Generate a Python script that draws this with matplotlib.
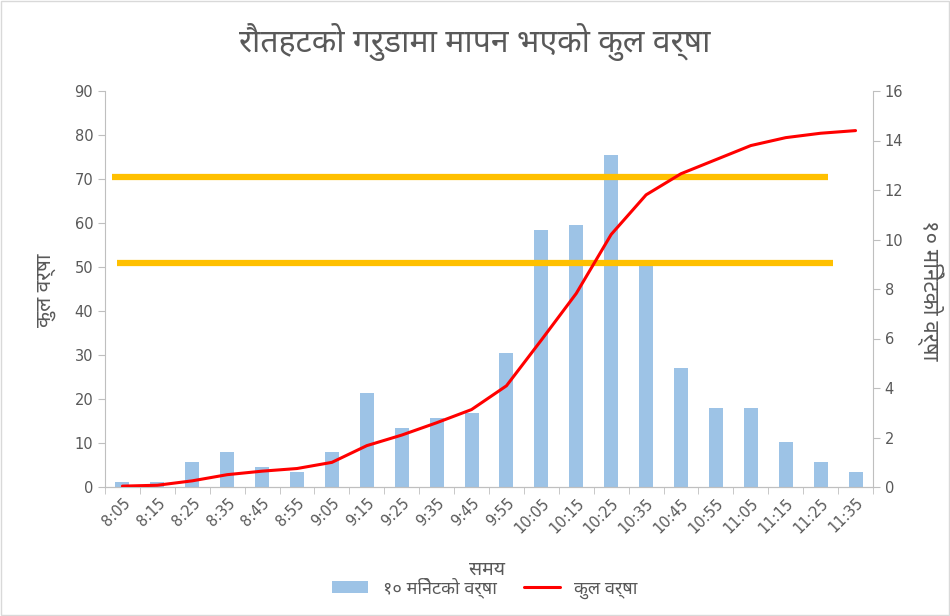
import matplotlib
matplotlib.use("Agg")
import matplotlib.pyplot as plt
from matplotlib import font_manager
from matplotlib.ft2font import FT2Font
from matplotlib.patches import Rectangle

# ---- data ----
times = ["8:05", "8:15", "8:25", "8:35", "8:45", "8:55", "9:05", "9:15", "9:25", "9:35",
         "9:45", "9:55", "10:05", "10:15", "10:25", "10:35", "10:45", "10:55", "11:05",
         "11:15", "11:25", "11:35"]
rain_10min = [0.2, 0.2, 1.0, 1.4, 0.8, 0.6, 1.4, 3.8, 2.4, 2.8, 3.0, 5.4, 10.4, 10.6,
              13.4, 9.0, 4.8, 3.2, 3.2, 1.8, 1.0, 0.6]
rain_total = [0.2, 0.4, 1.4, 2.8, 3.6, 4.2, 5.6, 9.4, 11.8, 14.6, 17.6, 23.0, 33.4, 44.0,
              57.4, 66.4, 71.2, 74.4, 77.6, 79.4, 80.4, 81.0]
threshold_levels = [70.5, 50.8]

title = "रौतहटको गरुडामा मापन भएको कुल वर्षा"
left_label = "कुल वर्षा"
right_label = "१० मिनेटको वर्षा"
x_label = "समय"
bar_name = "१० मिनेटको वर्षा"
line_name = "कुल वर्षा"

# ---- pick a Devanagari-capable font ----
available = {f.name for f in font_manager.fontManager.ttflist}
preferred = ["Noto Sans Devanagari", "Mukta", "Hind", "Noto Serif Devanagari",
             "Yantramanav", "Martel Sans", "Annapurna SIL", "Arya", "FreeSans"]
deva = next((n for n in preferred if n in available), None)
if deva is None:
    for f in font_manager.fontManager.ttflist:
        try:
            if 0x0915 in FT2Font(f.fname).get_charmap() and "unifont" not in f.fname.lower():
                deva = f.name
                break
        except Exception:
            pass
fams = ([deva] if deva else []) + ["DejaVu Sans"]
plt.rcParams['font.family'] = fams

gray = "#595959"
axis_gray = "#BFBFBF"

fig = plt.figure(figsize=(9.5, 6.16), dpi=100)
ax = fig.add_axes([105/950, 1-487/616, (873-105)/950, (487-91)/616])
ax2 = ax.twinx()

x = list(range(len(times)))
ax2.bar(x, rain_10min, width=0.4, color="#9DC3E6", zorder=1, label=bar_name)
ax.set_zorder(ax2.get_zorder() + 1)
ax.patch.set_visible(False)
ln, = ax.plot(x, rain_total, color="#FF0000", lw=2.2, zorder=3, label=line_name,
              solid_capstyle="round")

# threshold lines
ax.hlines(threshold_levels[0], -0.3, 20.2, color="#FFC000", lw=4.5, zorder=2)
ax.hlines(threshold_levels[1], -0.16, 20.36, color="#FFC000", lw=4.5, zorder=2)

ax.set_xlim(-0.5, len(times) - 0.5)
ax.set_ylim(0, 90)
ax2.set_ylim(0, 16)
ax.set_yticks(range(0, 91, 10))
ax2.set_yticks(range(0, 17, 2))
ax.set_xticks(x)
ax.set_xticklabels(times, rotation=45, ha="right", rotation_mode="anchor",
                   fontsize=10.5, color=gray, family="DejaVu Sans")
ax.set_xticks([i - 0.5 for i in range(len(times) + 1)], minor=True)
ax.tick_params(axis="x", which="major", length=0, pad=6)
ax.tick_params(axis="x", which="minor", length=5, color=axis_gray)
ax.tick_params(axis="y", length=5, color=axis_gray, labelcolor=gray, labelsize=10.5)
ax2.tick_params(axis="y", length=5, color=axis_gray, labelcolor=gray, labelsize=10.5)
for t in ax.get_yticklabels() + ax2.get_yticklabels():
    t.set_family("DejaVu Sans")

for a in (ax, ax2):
    a.spines["top"].set_visible(False)
    for s in ("left", "right", "bottom"):
        a.spines[s].set_color(axis_gray)
ax2.spines["left"].set_visible(False)
ax.spines["right"].set_visible(False)

fig.text(0.5, 1 - 42/616, title, ha="center", va="center", fontsize=23, color=gray)
fig.text(45/950, 1 - 290/616, left_label, rotation=90, ha="center", va="center",
         fontsize=15, color=gray)
fig.text(930/950, 1 - 290/616, right_label, rotation=270, ha="center", va="center",
         fontsize=16, color=gray)
fig.text(487/950, 1 - 570/616, x_label, ha="center", va="center", fontsize=14,
         color=gray, fontweight="bold")

handles = [ax2.containers[0], ln]
leg = fig.legend(handles, [bar_name, line_name], loc="center", ncol=2,
                 bbox_to_anchor=(485/950, 1 - 588/616), frameon=False, fontsize=13,
                 handlelength=2.0, columnspacing=1.5)
for t in leg.get_texts():
    t.set_color(gray)

fig.patches.append(Rectangle((0.001, 0.001), 0.998, 0.998, transform=fig.transFigure,
                             fill=False, edgecolor="#D9D9D9", lw=1))

fig.savefig("out.png", dpi=100)
